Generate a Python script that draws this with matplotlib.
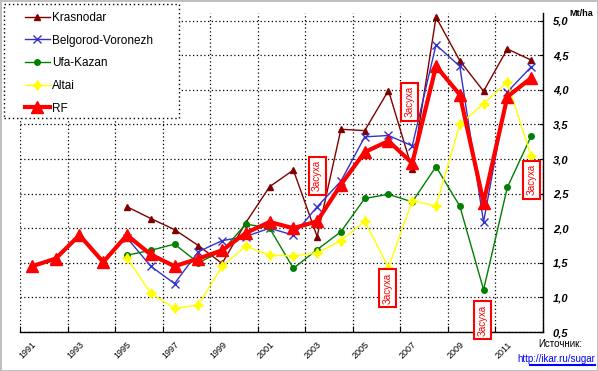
import numpy as np
import matplotlib
matplotlib.use('Agg')
import matplotlib.pyplot as plt
from matplotlib.patches import Rectangle
from matplotlib.lines import Line2D

plt.rcParams['font.family'] = ['Liberation Sans', 'DejaVu Sans']

# data (sugar beet yield, Mt/ha)
years_rf = list(range(1991, 2013))
years_reg = list(range(1995, 2013))

rf = [1.45, 1.56, 1.90, 1.51, 1.90, 1.62, 1.45, 1.56, 1.68, 1.93, 2.09,
      2.00, 2.10, 2.63, 3.10, 3.26, 2.94, 4.34, 3.93, 2.37, 3.90, 4.17]
krasnodar = [2.31, 2.14, 1.98, 1.75, 1.49, 2.08, 2.60, 2.84, 1.88, 3.43,
             3.41, 3.99, 2.85, 5.05, 4.42, 3.98, 4.59, 4.43]
belgorod = [1.86, 1.45, 1.20, 1.66, 1.82, 1.88, 2.00, 1.90, 2.31, 2.68,
            3.32, 3.34, 3.19, 4.65, 4.34, 2.09, 3.97, 4.33]
ufa = [1.61, 1.68, 1.77, 1.50, 1.67, 2.06, 2.00, 1.42, 1.69, 1.95,
       2.43, 2.49, 2.38, 2.89, 2.32, 1.11, 2.59, 3.33]
altai = [1.57, 1.06, 0.84, 0.89, 1.45, 1.74, 1.61, 1.60, 1.64, 1.82,
         2.10, 1.43, 2.40, 2.32, 3.50, 3.80, 4.11, 3.04]

xlabels = [str(y) for y in range(1991, 2012, 2)]
drought_label = 'Засуха'
# (year, value) where the drought notes sit
drought_pos = [(2003.0, 2.76), (2006.9, 3.83), (2005.96, 1.13),
               (2009.95, 0.67), (2012.03, 2.70)]

W, H = 598, 371
fig = plt.figure(figsize=(W / 100, H / 100), dpi=100,
                 edgecolor='#c0c0c0', linewidth=2)
ax = fig.add_axes([20 / W, 1 - 332 / H, 523 / W, 319 / H])
ax.set_xlim(1990.5, 2012.5)
ax.set_ylim(0.5, 5.11)

ax.plot(years_reg, krasnodar, color='#800000', lw=1, marker='^', ms=5,
        label='Krasnodar')
ax.plot(years_reg, belgorod, color='#3333cc', lw=1, marker='x', ms=6,
        mew=1, label='Belgorod-Voronezh')
ax.plot(years_reg, ufa, color='#008000', lw=1, marker='o', ms=4,
        label='Ufa-Kazan')
ax.plot(years_reg, altai, color='#ffff00', lw=1, marker=(4, 1, 0), ms=7,
        label='Altai')
ax.plot(years_rf, rf, color='#ff0000', lw=3, marker='^', ms=9,
        label='RF')

# axes styling
for s in ['top', 'left']:
    ax.spines[s].set_visible(False)
for s in ['bottom', 'right']:
    ax.spines[s].set_color('black')
    ax.spines[s].set_linewidth(1)

yt = np.arange(0.5, 5.01, 0.5)
ax.yaxis.tick_right()
ax.set_yticks(yt)
ax.set_yticklabels([f'{v:.1f}'.replace('.', ',') for v in yt],
                   fontsize=8, fontweight='bold', fontstyle='italic')
ax.tick_params(axis='y', direction='in', length=3, pad=7)

ax.set_xticks(np.arange(1990.5, 2013, 2))
ax.set_xticklabels([])
ax.set_xticks(range(1991, 2012, 2), minor=True)
ax.set_xticklabels(xlabels, minor=True, fontsize=6.5, rotation=45,
                   ha='right', va='top', rotation_mode='anchor')
ax.tick_params(axis='x', which='major', direction='in', length=4)
ax.tick_params(axis='x', which='minor', length=0, pad=6)

ax.grid(True, which='major', color='black', linestyle=(0, (1, 2)), lw=0.9)

for (x, y) in drought_pos:
    ax.text(x, y, drought_label, rotation=90, ha='center', va='center',
            color='red', fontsize=7, clip_on=False, zorder=10,
            bbox=dict(boxstyle='square,pad=0.35', fc='white', ec='red',
                      lw=1.5))

# legend with dotted frame
fig.patches.append(Rectangle((4 / W, 1 - 118 / H), 175 / W, 114 / H,
                             transform=fig.transFigure, fc='white',
                             ec='black', ls=(0, (1, 2)), lw=1, zorder=4))
fig.legend(loc='upper left', bbox_to_anchor=(25 / W, 1 - 12 / H),
           frameon=False, fontsize=8.5, borderpad=0, borderaxespad=0,
           handlelength=2.1, handletextpad=0.2, labelspacing=0.9)

fig.text(581 / W, 1 - 14 / H, 'Mt/ha', fontsize=6.5, fontweight='bold',
         ha='center', va='center')
fig.text(582 / W, 1 - 344 / H, 'Источник:', fontsize=7, ha='right',
         va='center')
fig.text(595 / W, 1 - 359 / H, 'http://ikar.ru/sugar', fontsize=7,
         color='#0000ff', ha='right', va='center')
fig.add_artist(Line2D([530 / W, 595 / W], [1 - 365 / H, 1 - 365 / H],
                      color='#0000ff', lw=1.5, transform=fig.transFigure))

fig.savefig('out.png', dpi=100)
